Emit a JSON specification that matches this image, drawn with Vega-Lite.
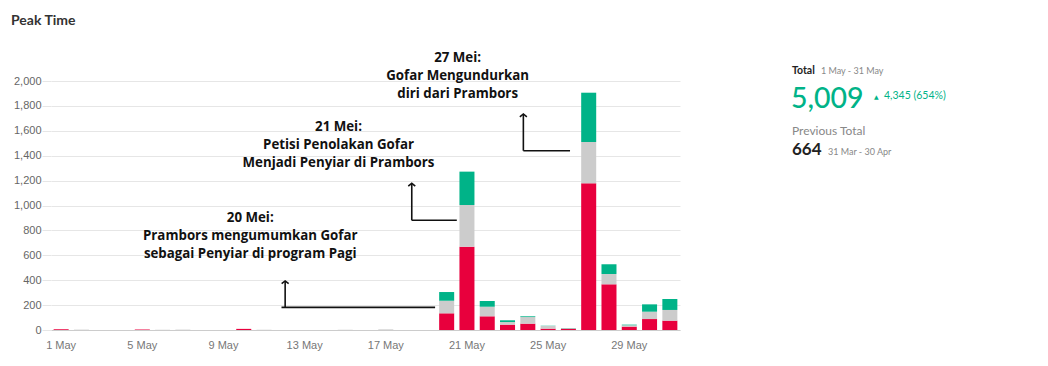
{
  "$schema": "https://vega.github.io/schema/vega-lite/v6.json",
  "width": 629,
  "height": 249,
  "autosize": {"type": "none"},
  "padding": {"left": 51, "top": 81, "right": 368, "bottom": 36},
  "background": "#ffffff",
  "config": {"view": {"stroke": null}, "font": "Liberation Sans"},
  "title": {"text": "Peak Time", "anchor": "start", "frame": "group", "dx": -40, "offset": 23, "font": "Lato", "fontSize": 14, "fontWeight": "bold", "color": "#333333"},
  "datasets": {
    "days": [
      {"day": "1 May", "Negative": 6, "Neutral": 0, "Positive": 0},
      {"day": "2 May", "Negative": 0, "Neutral": 3, "Positive": 0},
      {"day": "3 May", "Negative": 0, "Neutral": 0, "Positive": 0},
      {"day": "4 May", "Negative": 0, "Neutral": 0, "Positive": 0},
      {"day": "5 May", "Negative": 4, "Neutral": 0, "Positive": 0},
      {"day": "6 May", "Negative": 0, "Neutral": 2, "Positive": 0},
      {"day": "7 May", "Negative": 0, "Neutral": 3, "Positive": 0},
      {"day": "8 May", "Negative": 0, "Neutral": 0, "Positive": 0},
      {"day": "9 May", "Negative": 0, "Neutral": 0, "Positive": 0},
      {"day": "10 May", "Negative": 9, "Neutral": 0, "Positive": 0},
      {"day": "11 May", "Negative": 0, "Neutral": 3, "Positive": 0},
      {"day": "12 May", "Negative": 0, "Neutral": 0, "Positive": 0},
      {"day": "13 May", "Negative": 0, "Neutral": 0, "Positive": 0},
      {"day": "14 May", "Negative": 0, "Neutral": 0, "Positive": 0},
      {"day": "15 May", "Negative": 0, "Neutral": 2, "Positive": 0},
      {"day": "16 May", "Negative": 0, "Neutral": 0, "Positive": 0},
      {"day": "17 May", "Negative": 0, "Neutral": 5, "Positive": 0},
      {"day": "18 May", "Negative": 0, "Neutral": 0, "Positive": 0},
      {"day": "19 May", "Negative": 0, "Neutral": 0, "Positive": 0},
      {"day": "20 May", "Negative": 134, "Neutral": 101, "Positive": 70},
      {"day": "21 May", "Negative": 669, "Neutral": 335, "Positive": 268},
      {"day": "22 May", "Negative": 110, "Neutral": 77, "Positive": 46},
      {"day": "23 May", "Negative": 43, "Neutral": 21, "Positive": 14},
      {"day": "24 May", "Negative": 51, "Neutral": 53, "Positive": 6},
      {"day": "25 May", "Negative": 11, "Neutral": 21, "Positive": 2},
      {"day": "26 May", "Negative": 10, "Neutral": 3, "Positive": 2},
      {"day": "27 May", "Negative": 1178, "Neutral": 332, "Positive": 396},
      {"day": "28 May", "Negative": 367, "Neutral": 83, "Positive": 78},
      {"day": "29 May", "Negative": 27, "Neutral": 11, "Positive": 5},
      {"day": "30 May", "Negative": 88, "Neutral": 59, "Positive": 59},
      {"day": "31 May", "Negative": 75, "Neutral": 86, "Positive": 88}
    ],
    "notes": [
      {"day": 10.32, "value": 897, "note": ["20 Mei:", "Prambors mengumumkan Gofar", "sebagai Penyiar di program Pagi"]},
      {"day": 14.67, "value": 1628, "note": ["21 Mei:", "Petisi Penolakan Gofar", "Menjadi Penyiar di Prambors"]},
      {"day": 20.54, "value": 2187, "note": ["27 Mei:", "Gofar Mengundurkan", "diri dari Prambors"]}
    ],
    "segments": [
      {"x": 12.04, "y": 394, "x2": 12.04, "y2": 182},
      {"x": 11.86, "y": 182, "x2": 19.43, "y2": 182},
      {"x": 18.28, "y": 1178, "x2": 18.28, "y2": 881},
      {"x": 18.28, "y": 881, "x2": 20.5, "y2": 881},
      {"x": 23.78, "y": 1735, "x2": 23.78, "y2": 1440},
      {"x": 23.78, "y": 1440, "x2": 26.08, "y2": 1440}
    ],
    "heads": [
      {"x": 12.04, "y": 394},
      {"x": 18.28, "y": 1178},
      {"x": 23.78, "y": 1735}
    ],
    "summary": [
      {"item": "current", "label": "Total", "period": "1 May - 31 May", "total": 5009, "change": "4,345 (654%)"},
      {"item": "previous", "label": "Previous Total", "period": "31 Mar - 30 Apr", "total": 664}
    ]
  },
  "layer": [
    {
      "data": {"name": "days"},
      "transform": [{"fold": ["Negative", "Neutral", "Positive"], "as": ["sentiment", "count"]}],
      "mark": {"type": "bar"},
      "encoding": {
        "x": {
          "field": "day", "type": "ordinal", "sort": null,
          "scale": {"domain": ["1 May","2 May","3 May","4 May","5 May","6 May","7 May","8 May","9 May","10 May","11 May","12 May","13 May","14 May","15 May","16 May","17 May","18 May","19 May","20 May","21 May","22 May","23 May","24 May","25 May","26 May","27 May","28 May","29 May","30 May","31 May"], "paddingInner": 0.26, "paddingOuter": 0.13},
          "axis": {"title": null, "values": ["1 May","5 May","9 May","13 May","17 May","21 May","25 May","29 May"], "labelAngle": 0, "ticks": false, "tickSize": 0, "labelPadding": 9, "domainColor": "#cccccc", "labelColor": "#777777", "labelFont": "Liberation Sans", "labelFontSize": 11, "grid": false}
        },
        "y": {
          "field": "count", "type": "quantitative", "stack": "zero",
          "scale": {"domain": [0, 2000], "nice": false},
          "axis": {"title": null, "values": [0,200,400,600,800,1000,1200,1400,1600,1800,2000], "format": ",.0f", "labelOverlap": false, "domain": false, "grid": true, "gridColor": "#e6e6e6", "tickColor": "#e6e6e6", "tickSize": 9, "labelPadding": 1, "labelColor": "#666666", "labelFont": "Liberation Sans", "labelFontSize": 11}
        },
        "color": {"field": "sentiment", "type": "nominal", "scale": {"domain": ["Negative", "Neutral", "Positive"], "range": ["#e8003d", "#cccccc", "#00b388"]}, "legend": null},
        "order": {"field": "sentiment", "sort": "ascending"}
      }
    },
    {
      "data": {"name": "segments"},
      "mark": {"type": "rule", "color": "#111111", "strokeWidth": 1.6},
      "encoding": {
        "x": {"field": "x", "type": "quantitative", "scale": {"domain": [0.5, 31.5], "nice": false, "zero": false}, "axis": null},
        "x2": {"field": "x2"},
        "y": {"field": "y", "type": "quantitative", "scale": {"domain": [0, 2000], "nice": false}, "axis": {"title": null, "values": [0,200,400,600,800,1000,1200,1400,1600,1800,2000], "format": ",.0f", "labelOverlap": false, "domain": false, "grid": true, "gridColor": "#e6e6e6", "tickColor": "#e6e6e6", "tickSize": 9, "labelPadding": 1, "labelColor": "#666666", "labelFont": "Liberation Sans", "labelFontSize": 11}},
        "y2": {"field": "y2"}
      }
    },
    {
      "data": {"name": "heads"},
      "mark": {"type": "point", "shape": "M-1,0.8L0,0L1,0.8", "filled": false, "stroke": "#111111", "strokeWidth": 1.6, "size": 49, "opacity": 1},
      "encoding": {
        "x": {"field": "x", "type": "quantitative", "scale": {"domain": [0.5, 31.5], "nice": false, "zero": false}, "axis": null},
        "y": {"field": "y", "type": "quantitative", "scale": {"domain": [0, 2000], "nice": false}, "axis": {"title": null, "values": [0,200,400,600,800,1000,1200,1400,1600,1800,2000], "format": ",.0f", "labelOverlap": false, "domain": false, "grid": true, "gridColor": "#e6e6e6", "tickColor": "#e6e6e6", "tickSize": 9, "labelPadding": 1, "labelColor": "#666666", "labelFont": "Liberation Sans", "labelFontSize": 11}}
      }
    },
    {
      "data": {"name": "notes"},
      "mark": {"type": "text", "font": "Open Sans", "fontSize": 13.3, "fontWeight": "bold", "color": "#111111", "align": "center", "baseline": "middle", "lineHeight": 18},
      "encoding": {
        "x": {"field": "day", "type": "quantitative", "scale": {"domain": [0.5, 31.5], "nice": false, "zero": false}, "axis": null},
        "y": {"field": "value", "type": "quantitative", "scale": {"domain": [0, 2000], "nice": false}, "axis": {"title": null, "values": [0,200,400,600,800,1000,1200,1400,1600,1800,2000], "format": ",.0f", "labelOverlap": false, "domain": false, "grid": true, "gridColor": "#e6e6e6", "tickColor": "#e6e6e6", "tickSize": 9, "labelPadding": 1, "labelColor": "#666666", "labelFont": "Liberation Sans", "labelFontSize": 11}},
        "text": {"field": "note"}
      }
    },
    {
      "data": {"name": "summary"},
      "transform": [{"filter": "datum.item === 'current'"}],
      "mark": {"type": "text", "font": "Lato", "fontSize": 10.5, "fontWeight": "bold", "color": "#222222", "align": "left", "baseline": "alphabetic", "dx": 426.5, "dy": -131.5},
      "encoding": {"text": {"field": "label"}}
    },
    {
      "data": {"name": "summary"},
      "transform": [{"filter": "datum.item === 'current'"}],
      "mark": {"type": "text", "font": "Lato", "fontSize": 9, "color": "#888888", "align": "left", "baseline": "alphabetic", "dx": 455.5, "dy": -131.5},
      "encoding": {"text": {"field": "period"}}
    },
    {
      "data": {"name": "summary"},
      "transform": [{"filter": "datum.item === 'current'"}],
      "mark": {"type": "text", "font": "Lato", "fontSize": 28.5, "fontWeight": 500, "color": "#00b388", "align": "left", "baseline": "alphabetic", "dx": 425.5, "dy": -98},
      "encoding": {"text": {"field": "total", "format": ","}}
    },
    {
      "data": {"name": "summary"},
      "transform": [{"filter": "datum.item === 'current'"}],
      "mark": {"type": "text", "text": "▲", "font": "DejaVu Sans", "fontSize": 6, "color": "#00b388", "align": "left", "baseline": "alphabetic", "dx": 508.5, "dy": -106.5}
    },
    {
      "data": {"name": "summary"},
      "transform": [{"filter": "datum.item === 'current'"}],
      "mark": {"type": "text", "font": "Lato", "fontSize": 10.5, "color": "#00b388", "align": "left", "baseline": "alphabetic", "dx": 518.5, "dy": -106.2},
      "encoding": {"text": {"field": "change"}}
    },
    {
      "data": {"name": "summary"},
      "transform": [{"filter": "datum.item === 'previous'"}],
      "mark": {"type": "text", "font": "Lato", "fontSize": 12, "color": "#888888", "align": "left", "baseline": "alphabetic", "dx": 426.5, "dy": -70.5},
      "encoding": {"text": {"field": "label"}}
    },
    {
      "data": {"name": "summary"},
      "transform": [{"filter": "datum.item === 'previous'"}],
      "mark": {"type": "text", "font": "Lato", "fontSize": 17, "fontWeight": "bold", "color": "#222222", "align": "left", "baseline": "alphabetic", "dx": 426.5, "dy": -50.5},
      "encoding": {"text": {"field": "total", "format": ","}}
    },
    {
      "data": {"name": "summary"},
      "transform": [{"filter": "datum.item === 'previous'"}],
      "mark": {"type": "text", "font": "Lato", "fontSize": 9, "color": "#888888", "align": "left", "baseline": "alphabetic", "dx": 462.5, "dy": -50.5},
      "encoding": {"text": {"field": "period"}}
    }
  ],
  "resolve": {"scale": {"x": "independent"}}
}
